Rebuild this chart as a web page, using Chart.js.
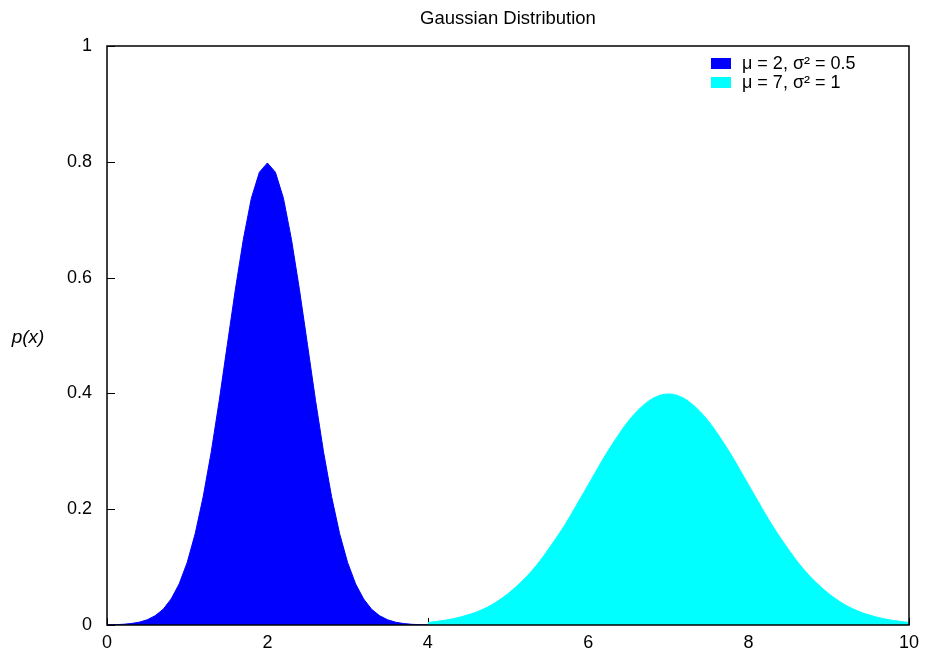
<!DOCTYPE html>
<html>
<head>
<meta charset="utf-8">
<script src="https://cdn.jsdelivr.net/npm/chart.js@4"></script>
<style>
  html, body { margin: 0; padding: 0; background: #fff; }
  #wrap { width: 926px; height: 655px; }
</style>
</head>
<body>
<div id="wrap"><canvas id="chart" width="926" height="655"></canvas></div>
<script>
    // Chart texts
    const chartTitle = 'Gaussian Distribution';
    const yAxisLabel = 'p(x)';
    const seriesLabels = ['\u03bc = 2, \u03c3\u00b2 = 0.5', '\u03bc = 7, \u03c3\u00b2 = 1'];
    const seriesColors = ['#0000ff', '#00ffff'];

    // Tick values
    const xTicks = [0, 2, 4, 6, 8, 10];
    const yTicks = [0, 0.2, 0.4, 0.6, 0.8, 1];

    // Series 1
    const blueX = [0.0, 0.1, 0.2, 0.3, 0.4, 0.5, 0.6, 0.7, 0.8, 0.9,
      1.0, 1.1, 1.2, 1.3, 1.4, 1.5, 1.6, 1.7, 1.8, 1.9,
      2.0, 2.1, 2.2, 2.3, 2.4, 2.5, 2.6, 2.7, 2.8, 2.9,
      3.0, 3.1, 3.2, 3.3, 3.4, 3.5, 3.6, 3.7, 3.8, 3.9, 4.0];
    const blueY = [0.0003, 0.0006, 0.0012, 0.0025, 0.0048, 0.0089, 0.016, 0.027, 0.045, 0.071,
      0.108, 0.158, 0.222, 0.299, 0.388, 0.484, 0.579, 0.666, 0.737, 0.782,
      0.798, 0.782, 0.737, 0.666, 0.579, 0.484, 0.388, 0.299, 0.222, 0.158,
      0.108, 0.071, 0.045, 0.027, 0.016, 0.0089, 0.0048, 0.0025, 0.0012, 0.0006, 0.0003];

    // Series 2
    const cyanX = [4.0, 4.1, 4.2, 4.3, 4.4, 4.5, 4.6, 4.7, 4.8, 4.9,
      5.0, 5.1, 5.2, 5.3, 5.4, 5.5, 5.6, 5.7, 5.8, 5.9,
      6.0, 6.1, 6.2, 6.3, 6.4, 6.5, 6.6, 6.7, 6.8, 6.9,
      7.0, 7.1, 7.2, 7.3, 7.4, 7.5, 7.6, 7.7, 7.8, 7.9,
      8.0, 8.1, 8.2, 8.3, 8.4, 8.5, 8.6, 8.7, 8.8, 8.9,
      9.0, 9.1, 9.2, 9.3, 9.4, 9.5, 9.6, 9.7, 9.8, 9.9, 10.0];
    const cyanY = [0.0044, 0.0060, 0.0079, 0.0104, 0.0136, 0.0175, 0.022, 0.028, 0.035, 0.044,
      0.054, 0.066, 0.079, 0.094, 0.111, 0.130, 0.150, 0.171, 0.194, 0.218,
      0.242, 0.266, 0.290, 0.312, 0.333, 0.352, 0.368, 0.381, 0.391, 0.397,
      0.399, 0.397, 0.391, 0.381, 0.368, 0.352, 0.333, 0.312, 0.290, 0.266,
      0.242, 0.218, 0.194, 0.171, 0.150, 0.130, 0.111, 0.094, 0.079, 0.066,
      0.054, 0.044, 0.035, 0.028, 0.022, 0.0175, 0.0136, 0.0104, 0.0079, 0.0060, 0.0044];

    const fontFamily = '"Liberation Sans", Arial, Helvetica, sans-serif';

    // Inward ticks, frame, title, horizontal y label and legend inside the plot
    const framePlugin = {
      id: 'frame',
      beforeDatasetsDraw(chart) {
        const ctx = chart.ctx;
        const area = chart.chartArea;
        const xs = chart.scales.x;
        const ys = chart.scales.y;
        ctx.save();
        ctx.strokeStyle = '#000';
        ctx.lineWidth = 1;
        ctx.beginPath();
        yTicks.forEach(v => {
          const py = Math.round(ys.getPixelForValue(v)) + 0.5;
          ctx.moveTo(area.left, py);
          ctx.lineTo(area.left + 8, py);
        });
        xTicks.forEach(v => {
          const px = Math.round(xs.getPixelForValue(v)) + 0.5;
          ctx.moveTo(px, area.bottom);
          ctx.lineTo(px, area.bottom - 7);
        });
        ctx.stroke();
        ctx.restore();
      },
      afterDatasetsDraw(chart) {
        const ctx = chart.ctx;
        const area = chart.chartArea;
        ctx.save();
        ctx.strokeStyle = '#000';
        ctx.lineWidth = 1.5;
        ctx.strokeRect(area.left, area.top, area.right - area.left, area.bottom - area.top);

        // title, centred over the plot
        ctx.fillStyle = '#000';
        ctx.font = '18.5px ' + fontFamily;
        ctx.textAlign = 'center';
        ctx.textBaseline = 'middle';
        ctx.fillText(chartTitle, (area.left + area.right) / 2, 19);

        // y label, horizontal
        ctx.font = 'italic 19px ' + fontFamily;
        ctx.fillText(yAxisLabel, 28, (area.top + area.bottom) / 2 + 2);

        // legend
        ctx.font = '18px ' + fontFamily;
        ctx.textAlign = 'left';
        seriesLabels.forEach((label, i) => {
          const top = area.top + 12 + i * 19;
          ctx.fillStyle = seriesColors[i];
          ctx.fillRect(area.right - 198, top, 20, 11);
          ctx.fillStyle = '#000';
          ctx.fillText(label, area.right - 167, top + 6);
        });
        ctx.restore();
      }
    };

    const ctx = document.getElementById('chart').getContext('2d');
    new Chart(ctx, {
      type: 'line',
      data: {
        datasets: [
          {
            label: seriesLabels[0],
            data: blueX.map((x, i) => ({ x: x, y: blueY[i] })),
            borderColor: seriesColors[0],
            backgroundColor: seriesColors[0],
            borderWidth: 1,
            pointRadius: 0,
            fill: 'origin',
            tension: 0
          },
          {
            label: seriesLabels[1],
            data: cyanX.map((x, i) => ({ x: x, y: cyanY[i] })),
            borderColor: seriesColors[1],
            backgroundColor: seriesColors[1],
            borderWidth: 1,
            pointRadius: 0,
            fill: 'origin',
            cubicInterpolationMode: 'monotone'
          }
        ]
      },
      options: {
        responsive: false,
        animation: false,
        events: [],
        layout: {
          padding: { left: 0, right: 15, top: 46, bottom: 0 }
        },
        scales: {
          x: {
            type: 'linear',
            min: 0,
            max: 10,
            afterBuildTicks: scale => { scale.ticks = xTicks.map(v => ({ value: v })); },
            afterFit: scale => { scale.height = 30; },
            grid: { display: false, drawTicks: false },
            border: { display: false },
            ticks: {
              color: '#000',
              padding: 7,
              maxRotation: 0,
              font: { family: fontFamily, size: 18 }
            }
          },
          y: {
            type: 'linear',
            min: 0,
            max: 1,
            afterBuildTicks: scale => { scale.ticks = yTicks.map(v => ({ value: v })); },
            afterFit: scale => { scale.width = 107; },
            grid: { display: false, drawTicks: false },
            border: { display: false },
            ticks: {
              color: '#000',
              padding: 15,
              font: { family: fontFamily, size: 18 },
              callback: value => String(value)
            }
          }
        },
        plugins: {
          legend: { display: false },
          tooltip: { enabled: false },
          title: { display: false }
        }
      },
      plugins: [framePlugin]
    });
</script>
</body>
</html>
